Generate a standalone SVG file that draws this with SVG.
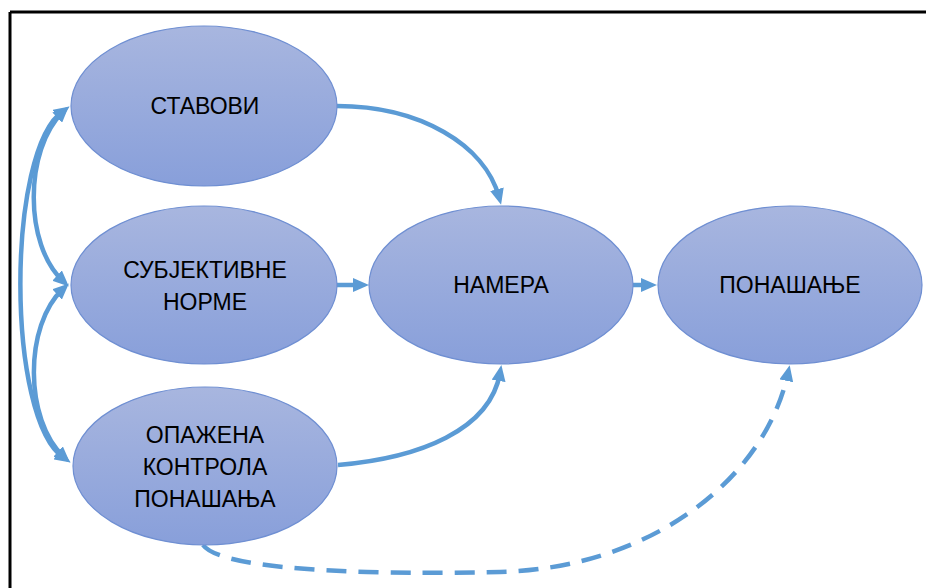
<svg xmlns="http://www.w3.org/2000/svg" width="926" height="588" viewBox="0 0 926 588">
  <style>
    .node { fill: url(#nodeFill); stroke: #6f8fd2; stroke-width: 1.2; }
    .label { font-family: "Liberation Sans", Arial, sans-serif; font-size: 23px; fill: #000; text-anchor: middle; }
    .link { fill: none; stroke: #5b9bd5; stroke-width: 4.5; }
    .dashed { stroke-dasharray: 20 12; }
  </style>
  <defs>
    <linearGradient id="nodeFill" x1="0" y1="0" x2="0" y2="1">
      <stop offset="0" stop-color="#a8b6df"/>
      <stop offset="1" stop-color="#889fda"/>
    </linearGradient>
    <marker id="head" viewBox="0 0 16 14" refX="8" refY="7" markerWidth="16" markerHeight="14" markerUnits="userSpaceOnUse" orient="auto-start-reverse">
      <path d="M0,0 L16,7 L0,14 z" fill="#5b9bd5"/>
    </marker>
  </defs>

  <!-- frame -->
  <path d="M10,12 H926 M10,12 V588" fill="none" stroke="#000" stroke-width="3"/>

  <!-- connectors -->
  <g id="connectors">
    <path class="link" d="M63,111 C6,150 6,420 64,458" marker-start="url(#head)" marker-end="url(#head)"/>
    <path class="link" d="M63,112 C24,150 24,245 63,281" marker-start="url(#head)" marker-end="url(#head)"/>
    <path class="link" d="M63,289 C24,325 24,420 64,457" marker-start="url(#head)" marker-end="url(#head)"/>
    <path class="link" d="M337,106 C420,106 485,145 499,197" marker-end="url(#head)"/>
    <path class="link" d="M337,285 H361" marker-end="url(#head)"/>
    <path class="link" d="M338,465 C420,458 490,430 500,373" marker-end="url(#head)"/>
    <path class="link" d="M633,285 H649" marker-end="url(#head)"/>
    <path class="link dashed" d="M203,545 C225,575 420,574 500,572 C650,568 765,480 788,373" marker-end="url(#head)"/>
  </g>

  <g id="stavovi">
    <ellipse class="node" cx="204" cy="106" rx="133" ry="80"/>
    <text class="label" x="205" y="114">СТАВОВИ</text>
  </g>
  <g id="subjektivne-norme">
    <ellipse class="node" cx="204" cy="285" rx="133" ry="79"/>
    <text class="label" x="205" y="278">СУБЈЕКТИВНЕ</text>
    <text class="label" x="205" y="310">НОРМЕ</text>
  </g>
  <g id="opazena-kontrola">
    <ellipse class="node" cx="205" cy="466" rx="132" ry="79"/>
    <text class="label" x="205" y="443">ОПАЖЕНА</text>
    <text class="label" x="205" y="475">КОНТРОЛА</text>
    <text class="label" x="205" y="507">ПОНАШАЊА</text>
  </g>
  <g id="namera">
    <ellipse class="node" cx="501" cy="285" rx="132" ry="79"/>
    <text class="label" x="501" y="293">НАМЕРА</text>
  </g>
  <g id="ponasanje">
    <ellipse class="node" cx="790" cy="285" rx="132" ry="79"/>
    <text class="label" x="790" y="293">ПОНАШАЊЕ</text>
  </g>
</svg>
